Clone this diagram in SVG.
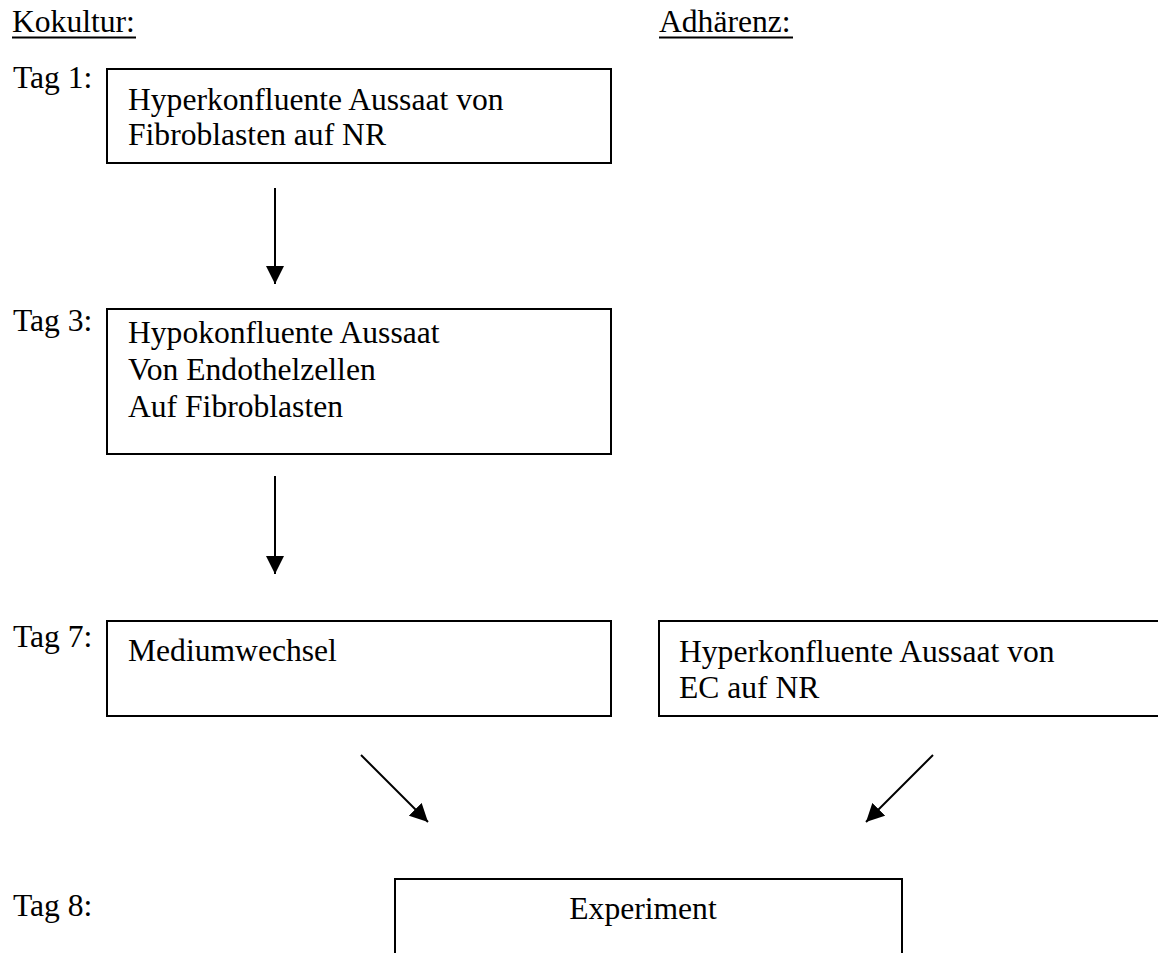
<svg xmlns="http://www.w3.org/2000/svg" width="1158" height="953" viewBox="0 0 1158 953">
<style>
text{font-family:"Liberation Serif","Times New Roman",serif;font-size:31.6px;fill:#000}
.box{fill:#fff;stroke:#000;stroke-width:2}
.con{stroke:#000;stroke-width:2;fill:none}
.ul{stroke:#000;stroke-width:2}
</style>
<defs>
<marker id="ah" markerUnits="userSpaceOnUse" markerWidth="18" markerHeight="18" viewBox="0 0 16 16" refX="16" refY="8" orient="auto">
<path d="M0,0 L16,8 L0,16 Z" fill="#000"/>
</marker>
</defs>
<rect width="1158" height="953" fill="#fff"/>
<g id="headers">
<text x="12" y="32">Kokultur:</text>
<line class="ul" x1="12" y1="37.5" x2="136" y2="37.5"/>
<text x="659" y="32">Adhärenz:</text>
<line class="ul" x1="659" y1="37.5" x2="793" y2="37.5"/>
</g>
<g id="days">
<text x="13" y="88">Tag 1:</text>
<text x="13" y="331">Tag 3:</text>
<text x="13" y="647">Tag 7:</text>
<text x="13" y="916">Tag 8:</text>
</g>
<g id="node1">
<rect class="box" x="107" y="69" width="504" height="94"/>
<text x="128" y="110">Hyperkonfluente Aussaat von</text>
<text x="128" y="145">Fibroblasten auf NR</text>
</g>
<g id="node2">
<rect class="box" x="107" y="309" width="504" height="145"/>
<text x="128" y="343">Hypokonfluente Aussaat</text>
<text x="128" y="380">Von Endothelzellen</text>
<text x="128" y="417">Auf Fibroblasten</text>
</g>
<g id="node3">
<rect class="box" x="107" y="621" width="504" height="95"/>
<text x="128" y="661">Mediumwechsel</text>
</g>
<g id="node4">
<rect class="box" x="659" y="621" width="520" height="95"/>
<text x="679" y="662">Hyperkonfluente Aussaat von</text>
<text x="679" y="698">EC auf NR</text>
</g>
<g id="node5">
<rect class="box" x="395" y="879" width="507" height="100"/>
<text x="643" y="919" text-anchor="middle">Experiment</text>
</g>
<g id="connectors">
<line class="con" x1="275" y1="188" x2="275" y2="284" marker-end="url(#ah)"/>
<line class="con" x1="275" y1="476" x2="275" y2="574" marker-end="url(#ah)"/>
<line class="con" x1="361" y1="755" x2="428" y2="822" marker-end="url(#ah)"/>
<line class="con" x1="933" y1="755" x2="866" y2="822" marker-end="url(#ah)"/>
</g>
</svg>
